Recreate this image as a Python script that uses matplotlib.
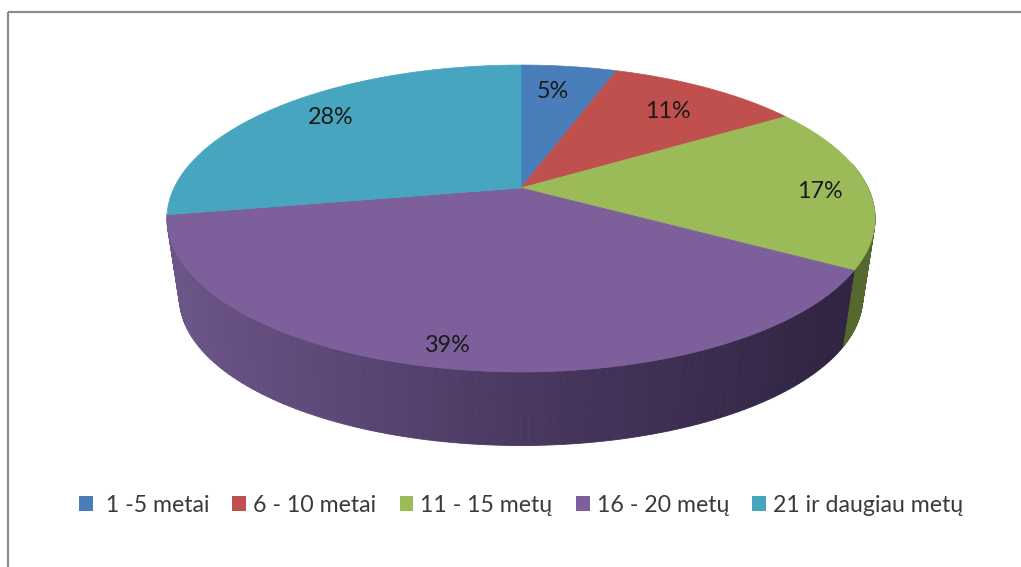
import numpy as np
import matplotlib
matplotlib.use("Agg")
import matplotlib.pyplot as plt
from matplotlib.patches import Polygon, Rectangle
from matplotlib.colors import to_rgb

plt.rcParams['font.family'] = ['Lato', 'DejaVu Sans']

categories = [" 1 -5 metai", "6 - 10 metai", "11 - 15 metų", "16 - 20 metų", "21 ir daugiau metų"]
values = [5.3, 10.7, 17.4, 38.8, 27.8]
colors = ["#4a7ebb", "#c0504d", "#9bbb59", "#7d5f9b", "#47a5c0"]
value_labels = ["5%", "11%", "17%", "39%", "28%"]
label_pos = [(553, 92), (668, 111), (820, 191), (448, 345), (331, 118)]

# perspective of the disc, pixels
CX, CY = 521, 188
RX, RY, K = 347, 147.4, 0.1987
DROP, SHRINK = 80, 0.965


def rim(angle, shrink=1.0, drop=0.0):
    # angle in degrees, clockwise from 12 o'clock
    t = np.radians(angle)
    u, v = np.sin(t), np.cos(t)
    w = 1 + K * v
    return CX + shrink * RX * u / w, CY + drop - shrink * RY * v / w


def shade(x, col_left, col_mid, col_right):
    pts = [165, 521, 860]
    rgb = [np.interp(x, pts, [to_rgb(col_left)[i], to_rgb(col_mid)[i], to_rgb(col_right)[i]]) for i in range(3)]
    return tuple(rgb)


fig = plt.figure(figsize=(10.21, 5.67), dpi=100)
ax = fig.add_axes([0, 0, 1, 1])
ax.set_xlim(0, 1021)
ax.set_ylim(567, 0)
ax.axis("off")

ax.add_patch(Rectangle((8, 12), 1100, 700, fill=False, ec="#8c8c8c", lw=1.6))

edges = np.concatenate([[0], np.cumsum(values)]) * 360 / sum(values)

# side wall, only the front half shows
side_cols = {
    2: ("#36441c", "#36441c", "#56672f"),
    3: ("#6c5589", "#4a3860", "#2f2340"),
}
for i, cols in side_cols.items():
    start, stop = edges[i], edges[i + 1]
    steps = np.linspace(max(start, 80), min(stop, 262), 120)
    for a, b in zip(steps[:-1], steps[1:]):
        xa, ya = rim(a)
        xb, yb = rim(b)
        xc, yc = rim(b, SHRINK, DROP)
        xd, yd = rim(a, SHRINK, DROP)
        fc = shade((xa + xb) / 2, *cols)
        ax.add_patch(Polygon([(xa, ya), (xb, yb), (xc, yc), (xd, yd)], fc=fc, ec=fc, lw=0.6))

# top face
for i, col in enumerate(colors):
    angles = np.linspace(edges[i], edges[i + 1], 80)
    xs, ys = rim(angles)
    pts = [(CX, CY)] + list(zip(xs, ys))
    ax.add_patch(Polygon(pts, fc=col, ec=col, lw=0.5))

for text, (x, y) in zip(value_labels, label_pos):
    ax.text(x, y, text, ha="center", va="center", fontsize=16.8, color="#1a1a1a")

handles = [Rectangle((0, 0), 1, 1, fc=c, ec="none") for c in colors]
ax.legend(handles, categories, ncol=5, loc="center", bbox_to_anchor=(521 / 1021, 1 - 505 / 567),
          frameon=False, fontsize=16.7, handlelength=0.6, handleheight=0.6, handletextpad=0.3,
          columnspacing=1.0, labelcolor="#3a3a3a", borderpad=0)

fig.savefig("out.png", dpi=100)
